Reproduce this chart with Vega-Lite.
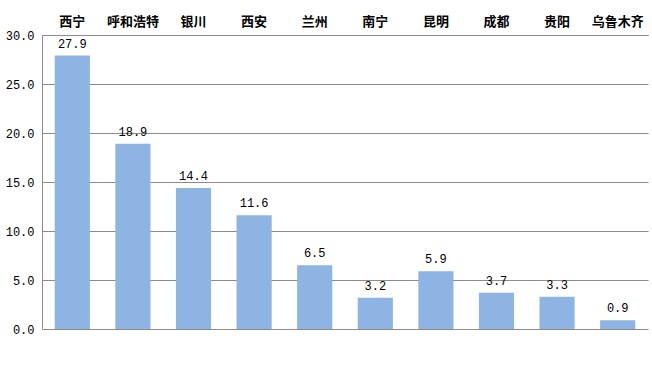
{
  "$schema": "https://vega.github.io/schema/vega-lite/v6.json",
  "autosize": {"type": "none"},
  "width": 606,
  "height": 294,
  "padding": {"left": 42, "top": 35, "right": 4, "bottom": 41},
  "background": "white",
  "data": {"values": [
    {"city": "西宁", "value": 27.9},
    {"city": "呼和浩特", "value": 18.9},
    {"city": "银川", "value": 14.4},
    {"city": "西安", "value": 11.6},
    {"city": "兰州", "value": 6.5},
    {"city": "南宁", "value": 3.2},
    {"city": "昆明", "value": 5.9},
    {"city": "成都", "value": 3.7},
    {"city": "贵阳", "value": 3.3},
    {"city": "乌鲁木齐", "value": 0.9}
  ]},
  "encoding": {
    "x": {"field": "city", "type": "nominal", "sort": null,
      "scale": {"paddingInner": 0.42, "paddingOuter": 0.21},
      "axis": {"orient": "top", "title": null, "labelAngle": 0, "ticks": false,
        "domainColor": "#8c8c8c", "labelFont": "Noto Sans CJK SC", "labelFontWeight": "bold",
        "labelFontSize": 13, "labelColor": "#000", "labelPadding": 7}},
    "y": {"field": "value", "type": "quantitative",
      "scale": {"domain": [0, 30], "nice": false},
      "axis": {"title": null, "values": [0, 5, 10, 15, 20, 25, 30], "format": ".1f",
        "ticks": false, "labelPadding": 8, "domainColor": "#8c8c8c", "gridColor": "#8c8c8c",
        "labelFont": "Liberation Mono", "labelFontSize": 12, "labelColor": "#000"}}
  },
  "layer": [
    {"mark": {"type": "bar", "color": "#8DB4E2"}},
    {"mark": {"type": "text", "baseline": "bottom", "dy": -5, "font": "Liberation Mono", "fontSize": 12, "color": "#000"},
     "encoding": {"text": {"field": "value", "type": "quantitative", "format": ".1f"}}}
  ],
  "config": {"view": {"stroke": null}}
}
